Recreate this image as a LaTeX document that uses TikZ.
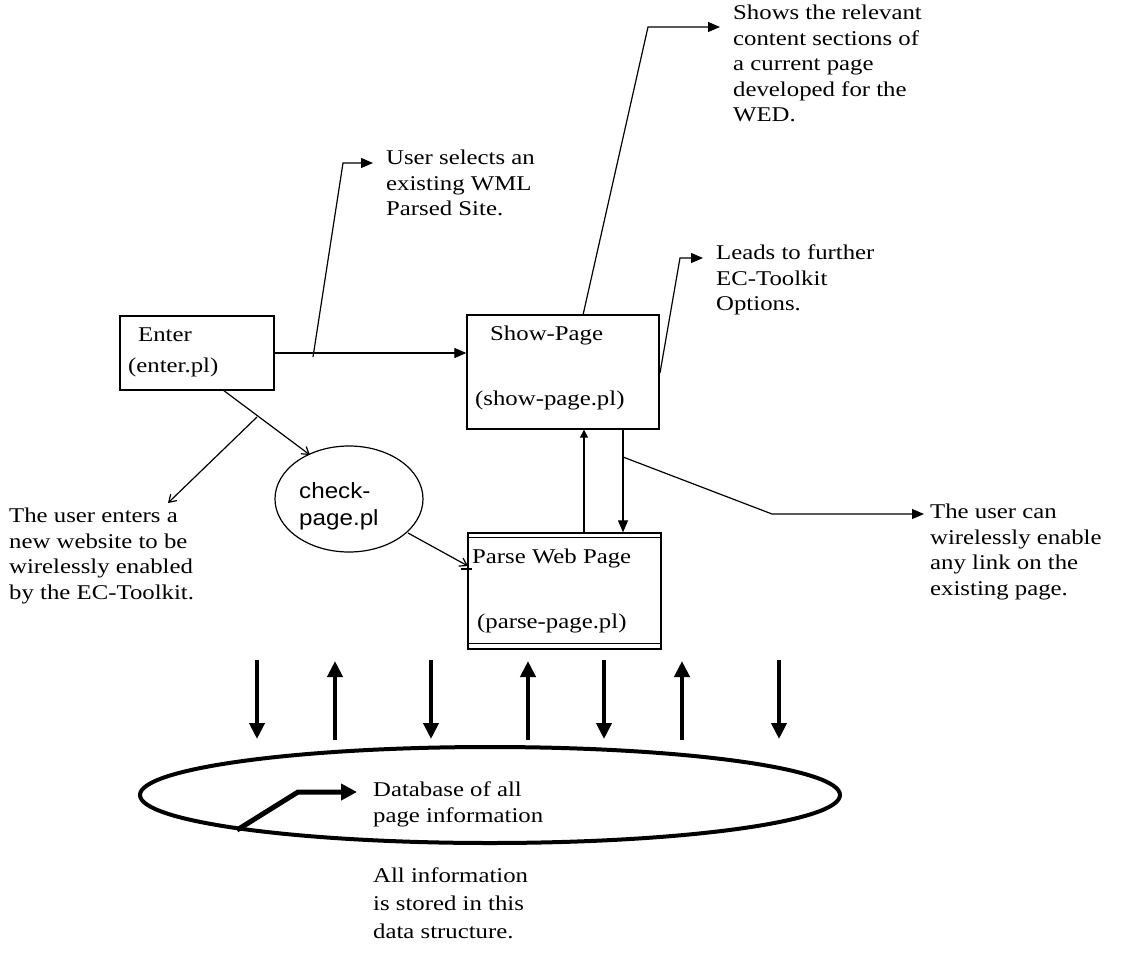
\documentclass[tikz,border=0pt]{standalone}
\usepackage{fontspec}
\setmainfont[FakeStretch=1.18]{Liberation Serif}
\newfontfamily\sansf[FakeStretch=1.1]{Liberation Sans}
\usetikzlibrary{arrows.meta,shapes.geometric}
\tikzset{
  boxnode/.style={draw,line width=1.3pt,inner sep=0pt},
  lbl/.style={anchor=west,inner sep=0pt,font=\fontsize{21}{25.5}\selectfont},
  txt/.style={anchor=north west,align=left,inner sep=0pt,font=\fontsize{21}{25.5}\selectfont},
  ln/.style={line width=1.2pt},
  arr/.style={ln,-{Triangle[length=12pt,width=10pt]}},
  openarr/.style={ln,-{Straight Barb[length=7pt,width=9pt]}},
  bigarr/.style={line width=4pt,-{Triangle[length=16pt,width=15pt]}}
}
\begin{document}
\begin{tikzpicture}[x=1pt,y=-1pt]
\useasboundingbox (0,0) rectangle (1140,953);
\fill[white] (0,0) rectangle (1140,953);

% boxes
\node[boxnode,minimum width=154pt,minimum height=74pt] (enter) at (197,353) {};
\node[lbl] (enterA) at (138,335) {Enter};
\node[lbl] (enterB) at (128,367) {(enter.pl)};

\node[boxnode,minimum width=192pt,minimum height=114pt] (show) at (563,372) {};
\node[lbl] (showA) at (490,335) {Show-Page};
\node[lbl] (showB) at (475,400) {(show-page.pl)};

\node[boxnode,minimum width=193pt,minimum height=116pt] (parse) at (564.5,591) {};
\draw[ln] ([yshift=-5pt]parse.north west) -- ([yshift=-5pt]parse.north east);
\draw[ln] ([yshift=6pt]parse.south west) -- ([yshift=6pt]parse.south east);
\node[lbl] (parseA) at (472,558) {Parse Web Page};
\node[lbl] (parseB) at (477,623) {(parse-page.pl)};

% check-page ellipse
\node[draw,ellipse,line width=1.2pt,minimum width=148pt,minimum height=106pt] (check) at (349,499) {};
\node[anchor=north west,align=left,inner sep=0pt,font=\sansf\fontsize{22}{27}\selectfont] (checkT) at (299,482) {check-\\page.pl};

% database ellipse
\node[draw,ellipse,line width=4pt,minimum width=700pt,minimum height=96pt] (db) at (490,795) {};
\node[txt] (dbT) at (373,782) {Database of all\\page information};
\node[txt,font=\fontsize{21}{28}\selectfont] (allT) at (373,868) {All information\\is stored in this\\data structure.};

% annotation texts
\node[txt] (shows) at (733,5) {Shows the relevant\\content sections of\\a current page\\developed for the\\WED.};
\node[txt] (usel) at (386,150) {User selects an\\existing WML\\Parsed Site.};
\node[txt] (leads) at (716,245) {Leads to further\\EC-Toolkit\\Options.};
\node[txt] (enters) at (9,508) {The user enters a\\new website to be\\wirelessly enabled\\by the EC-Toolkit.};
\node[txt] (usercan) at (930,504) {The user can\\wirelessly enable\\any link on the\\existing page.};

% coordinates for bends and free ends
\coordinate (u1) at (313,357);
\coordinate (u2) at (343,163);
\coordinate (u3) at (373,163);
\coordinate (s1) at (583,315);
\coordinate (s2) at (648,27);
\coordinate (s3) at (720,27);
\coordinate (l1) at (660,373);
\coordinate (l2) at (680,258);
\coordinate (l3) at (703,258);
\coordinate (c1) at (623,457);
\coordinate (c2) at (772,514);
\coordinate (c3) at (924,514);
\coordinate (e1) at (223,390);
\coordinate (e2) at (310,455);
\coordinate (b1) at (257,417);
\coordinate (b2) at (168,503);
\coordinate (p1) at (408,533);
\coordinate (p2) at (468,566);

% connectors
\draw[arr] (enter.east) -- (enter.east -| show.west);
\draw[arr] (u1) -- (u2) -- (u3);
\draw[arr] (s1) -- (s2) -- (s3);
\draw[arr] (l1) -- (l2) -- (l3);
\draw[arr,-{Triangle[length=8pt,width=8pt]}] (parse.north -| 584,0) -- (show.south -| 584,0);
\draw[arr] (show.south -| 623,0) -- (parse.north -| 623,0);
\draw[arr] (c1) -- (c2) -- (c3);
\draw[openarr] (e1) -- (e2);
\draw[openarr] (b1) -- (b2);
\draw[openarr] (p1) -- (p2);
\draw[ln] (461,569) -- (472,569);

% vertical arrows between parse and database
\foreach \x in {257,431,604,779} {
  \draw[bigarr] (\x,660) -- (\x,739);
}
\foreach \x in {335,528,682} {
  \draw[bigarr] (\x,740) -- (\x,661);
}
% bent arrow inside database
\coordinate (d1) at (237,830);
\coordinate (d2) at (298,792);
\coordinate (d3) at (357,792);
\draw[line width=5pt,-{Triangle[length=16pt,width=16pt]}] (d1) -- (d2) -- (d3);
\end{tikzpicture}
\end{document}
